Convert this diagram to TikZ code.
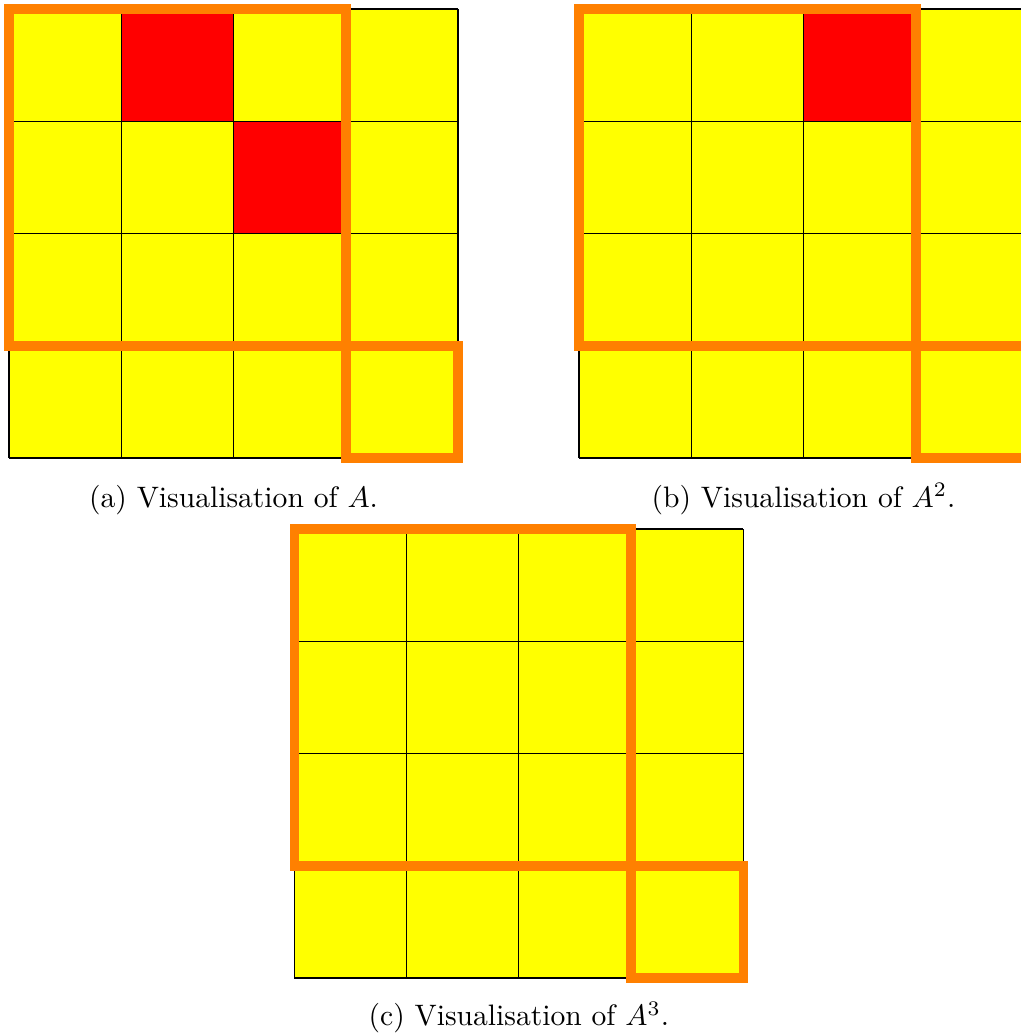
\documentclass[tikz,border=0pt]{standalone}
\usetikzlibrary{positioning}

\definecolor{amarillo}{RGB}{255,255,0}
\definecolor{rojo}{RGB}{255,0,0}
\definecolor{naranja}{RGB}{255,128,0}

\tikzset{
  casilla/.style={fill=amarillo},
  marcada/.style={fill=rojo},
  rejilla/.style={draw=black, line width=0.3pt},
  marco/.style={draw=naranja, line width=2.45pt},
  leyenda/.style={anchor=base, inner sep=0pt, scale=0.75, transform shape}
}

\begin{document}
\begin{tikzpicture}[x=1cm, y=1cm]
  \useasboundingbox (-0.0802,0.0802) rectangle (9.0067,-9.1225);
  % (a) matriz A
  \fill[casilla] (0,0) rectangle (4,-4);
  \fill[marcada] (1,0) rectangle (2,-1);
  \fill[marcada] (2,-1) rectangle (3,-2);
  \draw[rejilla] (0,0) grid (4,-4);
  \draw[marco] (0,0) rectangle (3,-3);
  \draw[marco] (3,-3) rectangle (4,-4);
  \node[leyenda] (leyA) at (2,-4.437) {(a) Visualisation of $A$.};
  % (b) matriz A^2
  \begin{scope}[shift={(5.078,0)}]
    \fill[casilla] (0,0) rectangle (4,-4);
    \fill[marcada] (2,0) rectangle (3,-1);
    \draw[rejilla] (0,0) grid (4,-4);
    \draw[marco] (0,0) rectangle (3,-3);
    \draw[marco] (3,-3) rectangle (4,-4);
    \node[leyenda] (leyB) at (2,-4.437) {(b) Visualisation of $A^2$.};
  \end{scope}
  % (c) matriz A^3
  \begin{scope}[shift={(2.542,-4.633)}]
    \fill[casilla] (0,0) rectangle (4,-4);
    \draw[rejilla] (0,0) grid (4,-4);
    \draw[marco] (0,0) rectangle (3,-3);
    \draw[marco] (3,-3) rectangle (4,-4);
    \node[leyenda] (leyC) at (2,-4.427) {(c) Visualisation of $A^3$.};
  \end{scope}
\end{tikzpicture}
\end{document}
